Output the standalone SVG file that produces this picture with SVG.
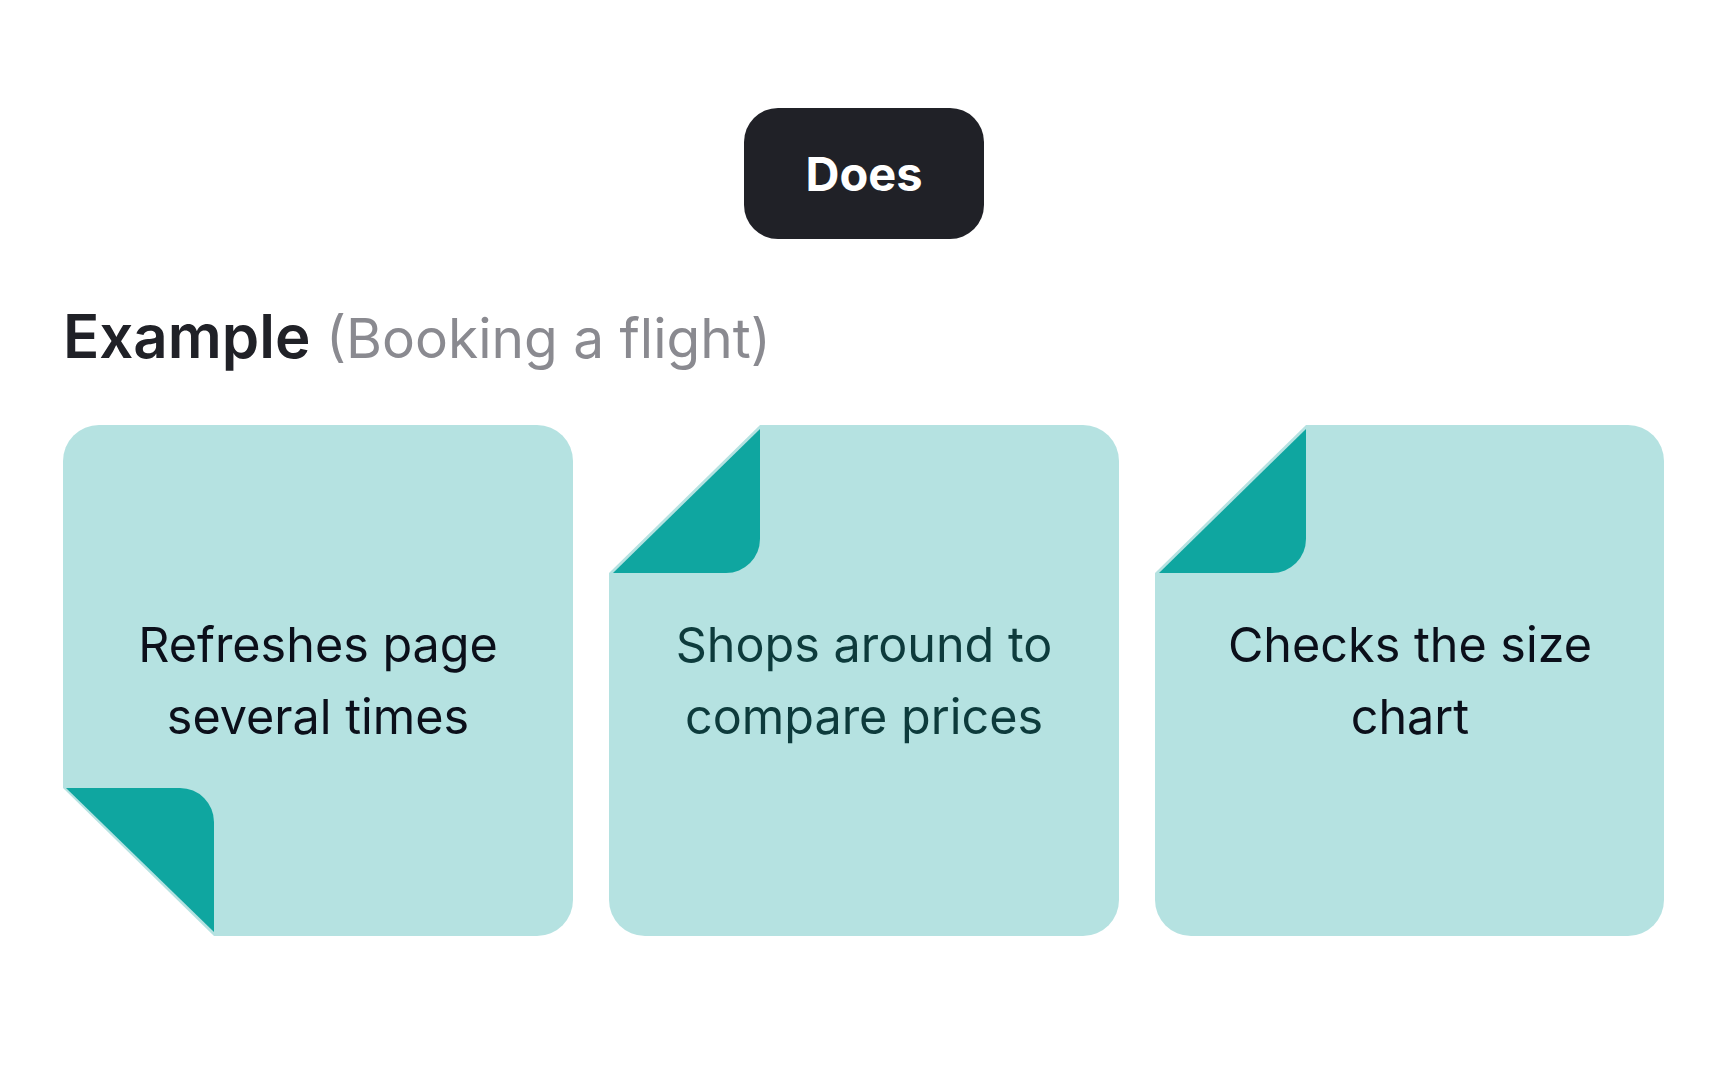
<svg xmlns="http://www.w3.org/2000/svg" width="1728" height="1080" viewBox="0 0 1728 1080">
<style>
.card{fill:#b5e2e1}
.tab{fill:#0fa6a0}
.t{font-family:Inter,"Noto Sans",sans-serif;font-size:48.5px;text-anchor:middle}
</style>
<rect width="1728" height="1080" fill="#fff"/>
<g id="does">
<rect x="744" y="108" width="240" height="131" rx="34" fill="#202127"/>
<text x="864" y="191" font-family="Inter,sans-serif" font-weight="700" font-size="47" fill="#fff" text-anchor="middle">Does</text>
</g>
<g id="title">
<text x="63" y="358" font-family="Inter,sans-serif" font-size="60"><tspan font-weight="600" fill="#202127">Example</tspan><tspan fill="#8a8a90" font-size="55"> (Booking a flight)</tspan></text>
</g>
<g id="card1">
<path class="card" d="M99 425H537A36 36 0 0 1 573 461V900A36 36 0 0 1 537 936H214L63 788V461A36 36 0 0 1 99 425Z"/>
<path class="tab" d="M66 788H180A34 34 0 0 1 214 822V932Z"/>
<text class="t" x="318" y="662" fill="#0b0f1a">Refreshes page</text>
<text class="t" x="318" y="734" fill="#0b0f1a">several times</text>
</g>
<g id="card2">
<path class="card" d="M760 425H1083A36 36 0 0 1 1119 461V900A36 36 0 0 1 1083 936H645A36 36 0 0 1 609 900V573Z"/>
<path class="tab" d="M760 429V539A34 34 0 0 1 726 573H613Z"/>
<text class="t" x="864" y="662" fill="#0d3b3c">Shops around to</text>
<text class="t" x="864" y="734" fill="#0d3b3c">compare prices</text>
</g>
<g id="card3">
<path class="card" d="M1306 425H1628A36 36 0 0 1 1664 461V900A36 36 0 0 1 1628 936H1191A36 36 0 0 1 1155 900V573Z"/>
<path class="tab" d="M1306 429V539A34 34 0 0 1 1272 573H1159Z"/>
<text class="t" x="1410" y="662" fill="#0b0f1a">Checks the size</text>
<text class="t" x="1410" y="734" fill="#0b0f1a">chart</text>
</g>
<g id="connectors"/>
</svg>
